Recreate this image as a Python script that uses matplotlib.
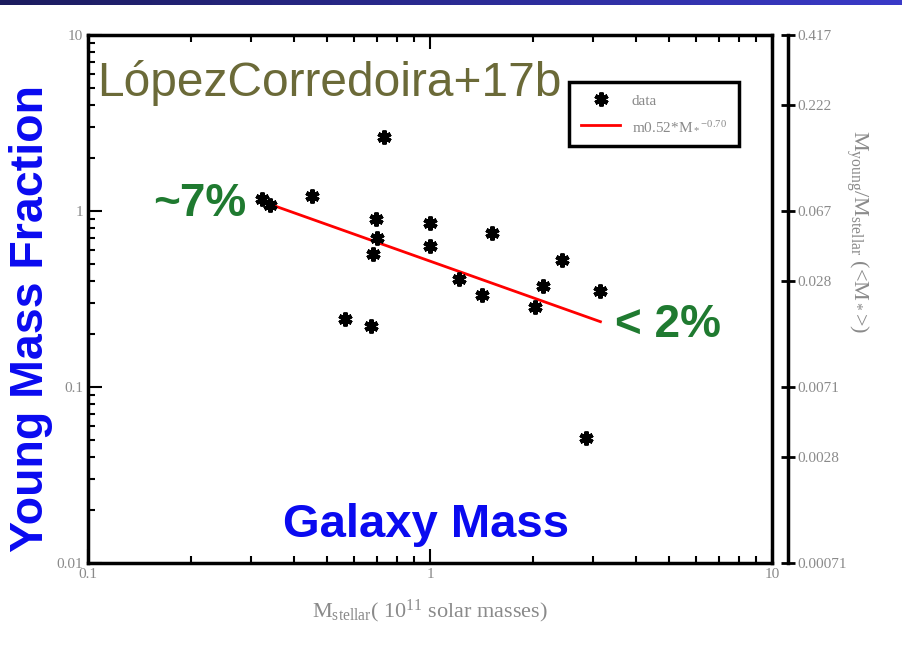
import matplotlib
matplotlib.use('Agg')
import matplotlib.pyplot as plt
import numpy as np

# galaxy data
mass = [0.323, 0.340, 0.452, 0.734, 0.695, 0.70, 0.68, 0.564, 0.672,
        1.0, 1.0, 1.216, 1.42, 1.52, 2.03, 2.14, 2.43, 3.14, 2.86]
frac = [1.17, 1.08, 1.22, 2.63, 0.90, 0.70, 0.57, 0.243, 0.222,
        0.855, 0.633, 0.41, 0.333, 0.75, 0.285, 0.375, 0.527, 0.351, 0.0515]

# power-law fit endpoints
fit_x = [0.32, 3.15]
fit_y = [1.14, 0.235]

right_ticks = [10, 4, 1, 0.4, 0.1, 0.04, 0.01]
right_labels = ['0.417', '0.222', '0.067', '0.028', '0.0071', '0.0028', '0.00071']

serif = 'Liberation Serif'
sans = 'Liberation Sans'
gray = '#8a8a8a'

plt.rcParams['mathtext.fontset'] = 'custom'
plt.rcParams['mathtext.rm'] = serif
plt.rcParams['mathtext.it'] = serif + ':italic'

fig = plt.figure(figsize=(9.03, 6.53), dpi=100)

# dark blue bar on top
bar = fig.add_axes([0, 1 - 5 / 653, 1, 5 / 653])
bar.imshow(np.linspace(0, 1, 256).reshape(1, -1), aspect='auto',
           cmap=matplotlib.colors.LinearSegmentedColormap.from_list('b', ['#1c1c5e', '#3a3ac8']))
bar.axis('off')

ax = fig.add_axes([88 / 903, 1 - 563 / 653, 684 / 903, 528 / 653])
ax.set_xscale('log')
ax.set_yscale('log')
ax.set_xlim(0.1, 10)
ax.set_ylim(0.01, 10)

ax.plot(mass, frac, ls='none', marker=(6, 2, 0), ms=10, mew=3, color='black',
        label='data', zorder=3)
ax.plot(fit_x, fit_y, color='red', lw=2, label='m0.52*M$_*$$^{-0.70}$', zorder=2)

for s in ax.spines.values():
    s.set_linewidth(2.5)
ax.set_xticks([0.1, 1, 10], ['0.1', '1', '10'])
ax.set_yticks([0.01, 0.1, 1, 10], ['0.01', '0.1', '1', '10'])
ax.tick_params(which='both', direction='in', top=True, right=True,
               labelsize=11, labelcolor=gray, width=1.5)
ax.tick_params(which='major', length=10)
ax.tick_params(which='minor', length=5)
for lab in ax.get_xticklabels() + ax.get_yticklabels():
    lab.set_family(serif)

ax.set_xlabel('M$_{\\rm stellar}$( 10$^{11}$ solar masses)', family=serif,
              fontsize=16, color=gray, labelpad=12)

# second axis on the right
ax2 = ax.twinx()
ax2.set_yscale('log')
ax2.set_ylim(0.01, 10)
for k in ['left', 'top', 'bottom']:
    ax2.spines[k].set_visible(False)
ax2.spines['right'].set_position(('outward', 11.5))
ax2.spines['right'].set_linewidth(2.5)
ax2.set_yticks(right_ticks, right_labels)
ax2.yaxis.set_minor_locator(matplotlib.ticker.NullLocator())
ax2.tick_params(axis='y', direction='inout', length=10, width=2, labelsize=11,
                labelcolor=gray, pad=2)
for lab in ax2.get_yticklabels():
    lab.set_family(serif)
fig.text(857 / 903, 1 - 232 / 653, 'M$_{\\rm young}$/M$_{\\rm stellar}$ (<M$_*$>)',
         family=serif, fontsize=16, color=gray, rotation=-90,
         ha='center', va='center')

leg = ax.legend(loc='upper right', bbox_to_anchor=(0.963, 0.926), frameon=True,
                fancybox=False, prop={'family': serif, 'size': 11},
                handlelength=2.5, borderpad=0.8, labelspacing=0.8)
leg.get_frame().set_edgecolor('black')
leg.get_frame().set_linewidth(2.5)
leg.get_frame().set_alpha(1)
for t in leg.get_texts():
    t.set_color(gray)

fig.text(97 / 903, 1 - 83 / 653, 'LópezCorredoira+17b', fontsize=34.5,
         color='#6b6a38', va='center', ha='left', family=sans)
fig.text(200 / 903, 1 - 204 / 653, '~7%', fontsize=33, color='#1f7a30',
         weight='bold', ha='center', va='center', family=sans)
fig.text(668 / 903, 1 - 325 / 653, '< 2%', fontsize=33, color='#1f7a30',
         weight='bold', ha='center', va='center', family=sans)
fig.text(426 / 903, 1 - 525 / 653, 'Galaxy Mass', fontsize=34, color='#0a0af0',
         weight='bold', ha='center', va='center', family=sans)
fig.text(31 / 903, 1 - 318 / 653, 'Young Mass Fraction', fontsize=33.5,
         color='#0a0af0', weight='bold', ha='center', va='center',
         rotation=90, family=sans)

fig.savefig('out.png', dpi=100)
